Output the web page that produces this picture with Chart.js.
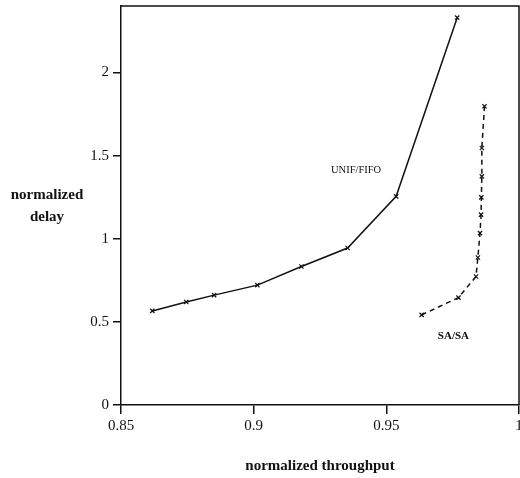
<!DOCTYPE html>
<html>
<head>
<meta charset="utf-8">
<script src="https://cdn.jsdelivr.net/npm/chart.js@4/dist/chart.umd.min.js"></script>
<style>
  html, body { margin: 0; padding: 0; background: #fff; }
  canvas { display: block; }
</style>
</head>
<body>
<canvas id="delayChart" width="520" height="478"></canvas>
<script>
// UNIF/FIFO curve (solid)
const fifoThroughput = [0.8618, 0.8746, 0.8851, 0.9014, 0.918, 0.9354, 0.9537, 0.9767];
const fifoDelay = [0.566, 0.620, 0.661, 0.721, 0.833, 0.944, 1.255, 2.33];

// SA/SA curve (dashed)
const saThroughput = [0.9633, 0.9772, 0.9838, 0.9845, 0.9853, 0.9857, 0.9858, 0.986, 0.986, 0.987];
const saDelay = [0.542, 0.646, 0.773, 0.887, 1.034, 1.145, 1.249, 1.375, 1.546, 1.797];

const xTicks = [0.85, 0.9, 0.95, 1];
const yTicks = [0, 0.5, 1, 1.5, 2];

const curveLabels = [
  { text: 'UNIF/FIFO', x: 0.9386, y: 1.41, bold: false },
  { text: 'SA/SA', x: 0.9753, y: 0.416, bold: true }
];

const serif = '"Liberation Serif", "DejaVu Serif", serif';
const noPadding = () => ({ left: 0, top: 0, right: 0, bottom: 0 });

function toPoints(xs, ys) {
  return xs.map((x, i) => ({ x, y: ys[i] }));
}

// frame, axis titles and curve labels
const decorations = {
  id: 'decorations',
  afterDraw(chart) {
    const { ctx, chartArea, scales } = chart;
    ctx.save();
    ctx.strokeStyle = '#111';
    ctx.lineWidth = 1.5;
    ctx.beginPath();
    ctx.moveTo(chartArea.left, chartArea.top);
    ctx.lineTo(chartArea.right, chartArea.top);
    ctx.lineTo(chartArea.right, chartArea.bottom);
    ctx.stroke();

    ctx.fillStyle = '#111';
    ctx.textAlign = 'center';
    ctx.textBaseline = 'middle';
    ctx.font = 'bold 15px ' + serif;
    ctx.fillText('normalized', 47, 195);
    ctx.fillText('delay', 47, 217);
    ctx.fillText('normalized throughput', 320, 466);

    curveLabels.forEach((l) => {
      ctx.font = (l.bold ? 'bold 11px ' : '10.5px ') + serif;
      ctx.fillText(l.text, scales.x.getPixelForValue(l.x), scales.y.getPixelForValue(l.y));
    });
    ctx.restore();
  }
};

new Chart(document.getElementById('delayChart'), {
  type: 'scatter',
  data: {
    datasets: [
      {
        label: 'UNIF/FIFO',
        data: toPoints(fifoThroughput, fifoDelay),
        showLine: true,
        borderColor: '#111',
        borderWidth: 1.5,
        pointStyle: 'crossRot',
        pointRadius: 3,
        pointBorderColor: '#111',
        pointBorderWidth: 1.2
      },
      {
        label: 'SA/SA',
        data: toPoints(saThroughput, saDelay),
        showLine: true,
        borderColor: '#111',
        borderWidth: 1.5,
        borderDash: [5, 4],
        pointStyle: 'crossRot',
        pointRadius: 3,
        pointBorderColor: '#111',
        pointBorderWidth: 1.2
      }
    ]
  },
  options: {
    responsive: false,
    animation: false,
    layout: { autoPadding: false, padding: { top: 6, right: 1, left: 0, bottom: 0 } },
    plugins: {
      legend: { display: false },
      tooltip: { enabled: false }
    },
    scales: {
      x: {
        type: 'linear',
        min: 0.85,
        max: 1,
        afterBuildTicks: (scale) => { scale.ticks = xTicks.map((v) => ({ value: v })); },
        afterFit: (scale) => { scale.height = 73; scale.getPadding = noPadding; },
        grid: { drawOnChartArea: false, tickLength: 9, color: '#111', lineWidth: 1.5 },
        border: { color: '#111', width: 1.5 },
        ticks: {
          color: '#111',
          font: { family: serif, size: 15 },
          padding: 3,
          maxRotation: 0,
          autoSkip: false,
          callback: (v) => String(v)
        }
      },
      y: {
        type: 'linear',
        min: 0,
        max: 2.4,
        afterBuildTicks: (scale) => { scale.ticks = yTicks.map((v) => ({ value: v })); },
        afterFit: (scale) => { scale.width = 121; scale.getPadding = noPadding; },
        grid: { drawOnChartArea: false, tickLength: 8, color: '#111', lineWidth: 1.5 },
        border: { color: '#111', width: 1.5 },
        ticks: {
          color: '#111',
          font: { family: serif, size: 15 },
          padding: 4,
          callback: (v) => String(v)
        }
      }
    }
  },
  plugins: [decorations]
});
</script>
</body>
</html>
